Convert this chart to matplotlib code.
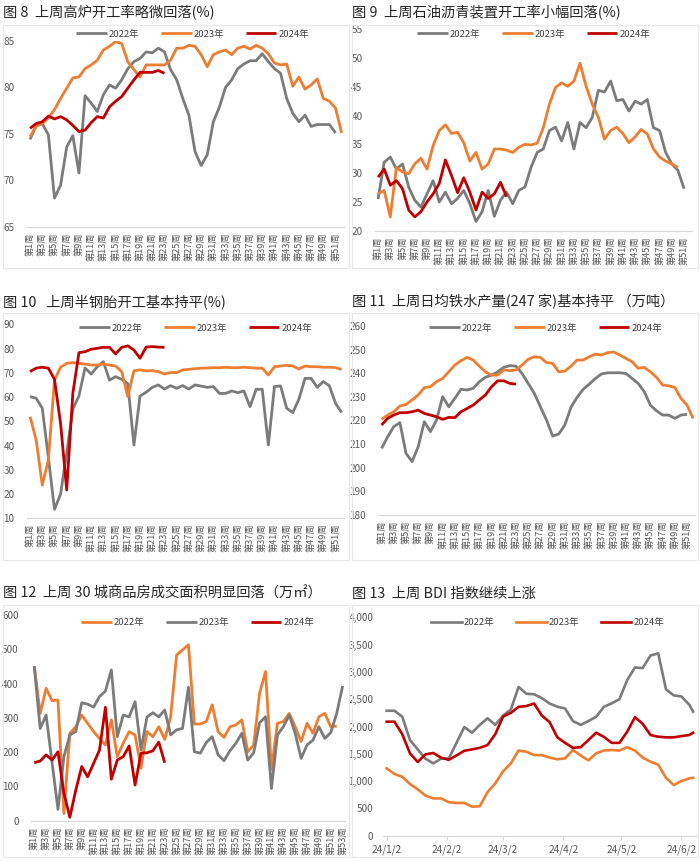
import matplotlib
matplotlib.use('Agg')
import matplotlib.pyplot as plt
from matplotlib.ticker import FuncFormatter, FixedLocator
from matplotlib.patches import Rectangle
import pandas as pd

plt.rcParams['font.family'] = ['Noto Sans CJK SC', 'DejaVu Sans']

# ---------------- data ----------------
titles = ["图 8  上周高炉开工率略微回落(%)",
          "图 9  上周石油沥青装置开工率小幅回落(%)",
          "图 10   上周半钢胎开工基本持平(%)",
          "图 11  上周日均铁水产量(247 家)基本持平 （万吨）",
          "图 12  上周 30 城商品房成交面积明显回落（万㎡）",
          "图 13  上周 BDI 指数继续上涨"]

weeks52 = [f"第{i}周" for i in range(1, 53)]
weeks53 = [f"第{i}周" for i in range(1, 54)]

# 图8 高炉开工率
bf_2022 = [74.4, 75.9, 76.1, 74.9, 68.1, 69.5, 73.6, 74.8, 70.8, 79.1, 78.3, 77.4, 79.2, 80.25, 79.9, 80.8, 82.0,
           82.75, 83.1, 83.8, 83.7, 84.2, 83.8, 81.9, 80.8, 78.8, 77.0, 73.1, 71.6, 72.75, 76.3, 77.9, 80.0, 80.8,
           82.0, 82.5, 82.85, 82.85, 83.6, 82.75, 82.0, 81.5, 78.8, 77.2, 76.3, 77.0, 75.8, 76.0, 76.0, 76.0, 75.1]
bf_2023 = [74.7, 75.8, 76.1, 76.7, 77.6, 78.8, 79.9, 81.0, 81.1, 82.0, 82.4, 82.9, 84.0, 84.4, 84.9, 84.7, 82.75,
           81.9, 81.1, 82.4, 82.4, 82.4, 82.4, 82.9, 84.2, 84.2, 84.5, 84.4, 83.5, 82.2, 83.5, 83.8, 84.0, 83.5,
           84.2, 84.4, 84.1, 84.5, 84.2, 83.6, 82.6, 82.4, 82.5, 80.1, 81.1, 79.8, 80.25, 80.9, 78.8, 78.5, 77.75, 75.1]
bf_2024 = [75.6, 76.1, 76.3, 76.9, 76.6, 76.85, 76.5, 75.9, 75.25, 75.4, 76.2, 76.85, 76.7, 77.9, 78.5, 79.0,
           79.9, 80.8, 81.6, 81.6, 81.6, 81.8, 81.5]

# 图9 石油沥青装置开工率
as_2022 = [25.5, 31.9, 32.8, 30.7, 31.6, 27.6, 25.3, 24.1, 26.4, 28.7, 25.0, 26.7, 24.7, 25.6, 27.0, 24.7, 21.6,
           23.3, 27.0, 22.5, 25.3, 26.7, 24.7, 27.0, 27.6, 31.0, 33.6, 34.2, 37.4, 38.0, 35.6, 38.8, 34.2, 38.8,
           37.9, 39.7, 44.4, 44.1, 46.0, 42.6, 42.8, 40.8, 42.5, 42.0, 42.8, 37.9, 37.4, 33.6, 31.6, 30.5, 27.3]
as_2023 = [26.4, 27.0, 22.4, 31.0, 30.2, 29.9, 31.6, 32.6, 30.7, 34.8, 37.4, 38.4, 36.9, 37.1, 35.3, 32.1, 33.6,
           30.7, 31.6, 34.2, 34.2, 34.0, 33.6, 34.5, 35.0, 34.9, 35.2, 37.9, 42.0, 44.9, 45.7, 45.1, 46.0, 49.1,
           45.1, 42.0, 39.7, 35.9, 37.4, 38.0, 36.9, 35.3, 36.3, 37.6, 36.8, 34.2, 32.8, 32.1, 31.6, 31.0]
as_2024 = [29.3, 30.7, 27.9, 28.7, 27.3, 23.6, 22.4, 23.3, 25.0, 26.4, 28.2, 32.3, 29.6, 26.6, 29.2, 26.7, 23.6,
           26.7, 25.6, 26.4, 28.4, 25.9]

# 图10 半钢胎开工率
tire_2022 = [60.2, 59.5, 55.4, 35, 13.7, 20, 37, 55, 60.5, 72, 69.5, 72.5, 74.6, 67, 68.4, 67.3, 65.5, 40.2, 60.4,
             62, 64, 65, 63.3, 64.7, 63.6, 64.7, 63.3, 65, 64.5, 64, 64.3, 61.5, 61.5, 62.5, 61.8, 62.5, 56, 63.2,
             63.2, 40.2, 64.3, 64.6, 55.4, 53.6, 59.1, 67.7, 67.7, 64, 66.4, 64.6, 57.4, 53.6]
tire_2023 = [51.9, 42.3, 23.7, 34.1, 67.0, 72.3, 73.9, 74.2, 73.9, 73.6, 73.2, 73.2, 73.6, 73.2, 72.8, 70.5, 60.2,
             70.8, 71.2, 70.8, 70.9, 70.5, 69.5, 70.1, 70.1, 71.2, 71.4, 71.7, 71.9, 72.0, 72.1, 72.1, 72.3, 72.1,
             72.1, 72.3, 72.1, 71.9, 71.9, 69.1, 72.5, 72.8, 73.1, 72.8, 71.6, 72.8, 72.5, 72.5, 72.3, 72.3, 72.1, 71.4]
tire_2024 = [70.5, 71.9, 72.3, 71.9, 67.3, 49.0, 21.7, 61.5, 78.3, 78.7, 79.7, 80.1, 80.5, 80.5, 77.8, 80.5, 81.1,
             79.4, 76.0, 80.6, 80.8, 80.6, 80.5]

# 图11 日均铁水产量
iron_2022 = [208.2, 213.1, 217.4, 219.1, 206.1, 202.6, 208.9, 219.5, 215.3, 220.2, 230.1, 225.8, 229.4, 233.2,
             232.9, 233.6, 236.4, 238.3, 239.2, 240.6, 242.5, 243.2, 243.0, 239.9, 235.7, 231.5, 225.8, 220.2,
             213.4, 214.3, 218.1, 225.6, 229.8, 233.2, 235.4, 237.8, 239.7, 240.2, 240.2, 240.2, 239.9, 237.8,
             235.7, 232.2, 226.5, 224.1, 222.3, 222.3, 220.9, 222.3, 222.6]
iron_2023 = [220.5, 222.3, 223.7, 226.1, 226.8, 228.7, 230.8, 233.9, 234.3, 236.4, 237.8, 240.6, 243.5, 245.3,
             246.7, 245.6, 243.0, 240.6, 239.2, 239.2, 241.4, 241.1, 241.4, 243.5, 245.9, 247.0, 246.7, 244.5,
             244.2, 240.6, 240.9, 243.0, 245.6, 245.6, 247.0, 248.1, 247.7, 248.7, 249.0, 247.7, 246.3, 244.9,
             242.1, 242.5, 240.6, 238.3, 235.0, 234.7, 234.0, 229.4, 226.5, 220.9]
iron_2024 = [218.1, 220.9, 222.3, 223.3, 223.3, 223.7, 224.4, 223.0, 222.3, 221.6, 220.5, 221.3, 221.2, 223.7,
             225.1, 226.5, 228.7, 230.8, 234.3, 236.8, 236.8, 235.7, 235.4]

# 图12 30城商品房成交面积
house_2022 = [451, 313, 386, 350, 352, 21, 255, 274, 308, 284, 260, 240, 221, 294, 187, 226, 260, 250, 153, 260,
              245, 274, 237, 303, 483, 498, 513, 282, 282, 289, 338, 260, 243, 274, 279, 294, 201, 221, 372, 435,
              150, 284, 289, 313, 274, 231, 284, 255, 303, 313, 274, 276]
house_2023 = [451, 269, 308, 170, 33, 187, 250, 260, 344, 340, 331, 362, 378, 440, 245, 308, 303, 347, 206, 302,
              315, 303, 323, 250, 265, 269, 389, 201, 197, 228, 245, 192, 175, 204, 226, 255, 177, 198, 286, 303,
              94, 250, 274, 308, 255, 182, 221, 235, 274, 240, 257, 313, 393]
house_2024 = [169, 174, 192, 177, 201, 80, 10, 89, 158, 128, 167, 206, 331, 121, 177, 187, 218, 104, 197, 198,
              204, 229, 169]

# 图13 BDI
bdi_dates = ["2024-01-02", "2024-01-06", "2024-01-10", "2024-01-14", "2024-01-18", "2024-01-22", "2024-01-26",
             "2024-01-30", "2024-02-03", "2024-02-07", "2024-02-11", "2024-02-15", "2024-02-19", "2024-02-23",
             "2024-02-27", "2024-03-02", "2024-03-06", "2024-03-10", "2024-03-14", "2024-03-18", "2024-03-22",
             "2024-03-26", "2024-03-30", "2024-04-03", "2024-04-07", "2024-04-11", "2024-04-15", "2024-04-19",
             "2024-04-23", "2024-04-27", "2024-05-01", "2024-05-05", "2024-05-09", "2024-05-13", "2024-05-17",
             "2024-05-21", "2024-05-25", "2024-05-29", "2024-06-02", "2024-06-06", "2024-06-08"]
bdi_2022 = [2289, 2289, 2180, 1752, 1580, 1410, 1325, 1410, 1416, 1700, 1990, 1886, 2030, 2150, 2030, 2200, 2310,
            2725, 2600, 2590, 2520, 2420, 2363, 2330, 2100, 2030, 2100, 2180, 2360, 2424, 2500, 2851, 3080, 3070,
            3300, 3340, 2680, 2570, 2550, 2400, 2271]
bdi_2023 = [1233, 1130, 1080, 946, 850, 735, 683, 683, 615, 600, 600, 531, 540, 800, 958, 1180, 1325, 1560, 1538,
            1477, 1477, 1430, 1400, 1416, 1569, 1470, 1380, 1508, 1560, 1570, 1560, 1620, 1560, 1430, 1355, 1300,
            1060, 928, 1000, 1050, 1062]
bdi_2024 = [2088, 2088, 1860, 1508, 1350, 1490, 1515, 1430, 1390, 1470, 1555, 1580, 1610, 1660, 1862, 2180, 2250,
            2360, 2375, 2420, 2200, 2080, 1800, 1700, 1610, 1620, 1752, 1886, 1810, 1700, 1700, 1905, 2170, 2050,
            1844, 1813, 1801, 1801, 1825, 1844, 1886]
bdi_ticks = ["2024-01-02", "2024-02-02", "2024-03-02", "2024-04-02", "2024-05-02", "2024-06-02"]
bdi_ticklabels = ["24/1/2", "24/2/2", "24/3/2", "24/4/2", "24/5/2", "24/6/2"]

# ---------------- styling ----------------
W, H = 700, 861
fig = plt.figure(figsize=(7, 8.61), dpi=100)
GRAY = '#7b7b7b'
ORANGE = '#ed7d31'
RED = '#c00000'
TXT = '#595959'
AXC = '#d9d9d9'
LW = 2.0


def axes_px(l, t, r, b):
    return fig.add_axes([l / W, 1 - b / H, (r - l) / W, (b - t) / H])


def style(ax):
    for s in ['top', 'right', 'left']:
        ax.spines[s].set_visible(False)
    ax.spines['bottom'].set_color(AXC)
    ax.spines['bottom'].set_linewidth(0.9)
    ax.tick_params(axis='y', length=0, labelsize=7.2, labelcolor=TXT, pad=9)
    ax.set_facecolor('none')


def legend(ax, handles, labels, cx, cy):
    lg = ax.legend(handles, labels, loc='center', bbox_to_anchor=(cx / W, 1 - cy / H),
                   bbox_transform=fig.transFigure, ncol=3, frameon=False, fontsize=6.8,
                   handlelength=3.2, handletextpad=0.25, columnspacing=2.3)
    for t in lg.get_texts():
        t.set_color('#404040')


def weekly(box, cats, series, colors, names, ylim, yticks, leg_xy, xmax):
    ax = axes_px(*box)
    style(ax)
    hs = []
    for vals, c in zip(series, colors):
        h, = ax.plot(range(1, len(vals) + 1), vals, color=c, lw=LW, solid_joinstyle='round',
                     solid_capstyle='butt')
        hs.append(h)
    ax.set_xlim(0.5, xmax)
    ax.set_ylim(*ylim)
    ax.set_yticks(yticks)
    ax.xaxis.set_major_locator(FixedLocator(range(1, len(cats) + 1, 2)))
    ax.set_xticklabels(cats[::2], rotation=90, fontsize=6.6, color=TXT)
    ax.tick_params(axis='x', length=0, pad=4)
    legend(ax, hs, names, *leg_xy)
    return ax


years = ["2022年", "2023年", "2024年"]

weekly((27, 40.7, 343.5, 227), weeks52, [bf_2022, bf_2023, bf_2024], [GRAY, ORANGE, RED], years,
       (65, 85), [65, 70, 75, 80, 85], (193, 34), 52.3)
weekly((375, 29.3, 692, 230.7), weeks52, [as_2022, as_2023, as_2024], [GRAY, ORANGE, RED], years,
       (20, 55), [20, 25, 30, 35, 40, 45, 50, 55], (534, 34.3), 52.3)
weekly((27, 324.3, 343.5, 518.3), weeks52, [tire_2022, tire_2023, tire_2024], [GRAY, ORANGE, RED], years,
       (10, 90), list(range(10, 91, 10)), (196, 328.3), 52.3)
weekly((378.5, 326, 695, 515), weeks52, [iron_2022, iron_2023, iron_2024], [GRAY, ORANGE, RED], years,
       (180, 260), list(range(180, 261, 10)), (546, 328.3), 52.3)
weekly((31.3, 615, 345, 820.7), weeks53, [house_2022, house_2023, house_2024], [ORANGE, GRAY, RED], years,
       (0, 600), list(range(0, 601, 100)), (198, 622.7), 53.4)

# BDI panel
ax6 = axes_px(383, 617.3, 697, 835.7)
style(ax6)
d = pd.to_datetime(bdi_dates)
hs = []
for vals, c in zip([bdi_2022, bdi_2023, bdi_2024], [GRAY, ORANGE, RED]):
    h, = ax6.plot(d, vals, color=c, lw=1.9, solid_joinstyle='round')
    hs.append(h)
ax6.set_ylim(0, 4000)
ax6.set_yticks(range(0, 4001, 500))
ax6.yaxis.set_major_formatter(FuncFormatter(lambda v, p: f"{int(v):,}"))
ax6.tick_params(axis='y', pad=7)
ax6.set_xlim(pd.Timestamp("2023-12-31 02:00"), pd.Timestamp("2024-06-10"))
ax6.set_xticks(pd.to_datetime(bdi_ticks))
ax6.set_xticklabels(bdi_ticklabels, fontsize=7.2, color=TXT)
ax6.tick_params(axis='x', length=3, color=AXC, pad=3)
legend(ax6, hs, years, 548, 622.7)

# titles
title_pos = [(3, 13), (352, 13), (3, 302), (352, 302), (3, 594), (352, 594)]
for t, (x, y) in zip(titles, title_pos):
    fig.text(x / W, 1 - y / H, t, fontsize=10.3, color='#262626', va='center', ha='left')

# chart-area borders
boxes = [(3, 25, 349, 268), (352, 25, 698, 268), (3, 313, 349, 560), (352, 313, 698, 560),
         (3, 605, 349, 857), (352, 605, 698, 857)]
for l, t, r, b in boxes:
    fig.add_artist(Rectangle((l / W, 1 - b / H), (r - l) / W, (b - t) / H, transform=fig.transFigure,
                             fill=False, edgecolor='#e8e8e8', lw=0.8))

fig.savefig('out.png', dpi=100, facecolor='white')
